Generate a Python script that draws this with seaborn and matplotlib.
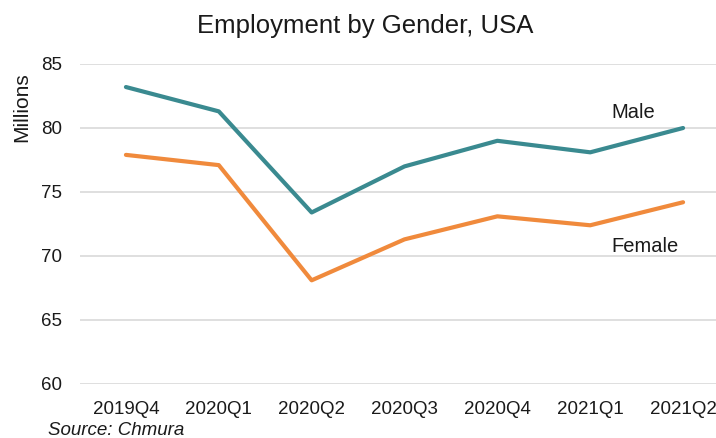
import matplotlib
matplotlib.use("Agg")
import matplotlib.pyplot as plt
import seaborn as sns
import pandas as pd

quarters = ["2019Q4", "2020Q1", "2020Q2", "2020Q3", "2020Q4", "2021Q1", "2021Q2"]
male = [83.2, 81.3, 73.4, 77.0, 79.0, 78.1, 80.0]
female = [77.9, 77.1, 68.1, 71.3, 73.1, 72.4, 74.2]
yticks = [60, 65, 70, 75, 80, 85]

sns.set_theme(style="white")
plt.rcParams["font.family"] = ["Liberation Sans", "DejaVu Sans"]

df = pd.DataFrame({
    "quarter": quarters * 2,
    "value": male + female,
    "gender": ["Male"] * len(quarters) + ["Female"] * len(quarters),
})
df["x"] = list(range(len(quarters))) * 2

TXT = "#1a1a1a"
fig = plt.figure(figsize=(7.16, 4.38), dpi=100)
ax = fig.add_axes([79.5 / 716, 1 - 384 / 438, (729.5 - 79.5) / 716, 320 / 438])

sns.lineplot(data=df, x="x", y="value", hue="gender",
             palette={"Male": "#3a8a90", "Female": "#f08a3c"},
             linewidth=3.0, legend=False, ax=ax, sort=False)

ax.set_xlim(-0.5, len(quarters) - 0.5)
ax.set_ylim(60, 85)
ax.set_yticks(yticks)
ax.set_yticklabels([str(v) for v in yticks], fontsize=13.5, color=TXT)
ax.set_xticks(range(len(quarters)))
ax.set_xticklabels(quarters, fontsize=13.5, color=TXT)
ax.tick_params(axis="both", length=0)
ax.tick_params(axis="y", pad=12.5)
ax.tick_params(axis="x", pad=12.5)
ax.grid(axis="y", color="#d9d9d9", linewidth=1.2)
ax.set_axisbelow(True)
for s in ax.spines.values():
    s.set_visible(False)
ax.set_xlabel("")
ax.set_ylabel("")

fig.text(21.5 / 716, 1 - 107 / 438, "Millions", fontsize=15, rotation=90,
         ha="center", va="center", color=TXT)
fig.text(365 / 716, 1 - 33 / 438, "Employment by Gender, USA", fontsize=18.5,
         ha="center", va="baseline", color=TXT)
fig.text(633 / 716, 1 - 118 / 438, "Male", fontsize=14.5,
         ha="center", va="baseline", color=TXT)
fig.text(645 / 716, 1 - 252 / 438, "Female", fontsize=14.5,
         ha="center", va="baseline", color=TXT)
fig.text(48 / 716, 1 - 435 / 438, "Source: Chmura", fontsize=13.5, style="italic",
         ha="left", va="baseline", color=TXT)

fig.savefig("out.png", dpi=100)
